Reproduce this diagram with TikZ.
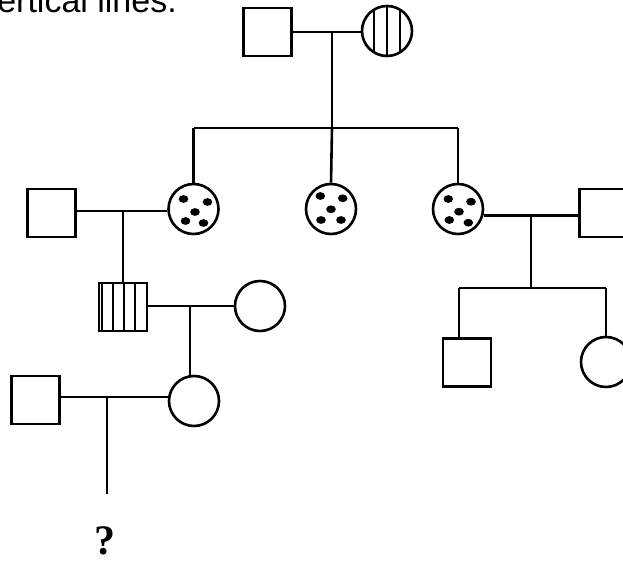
\documentclass[tikz,border=0pt]{standalone}
\usepackage{fontspec}
\setmainfont{Liberation Serif}
\newfontfamily\arialfont{Liberation Sans}
\begin{document}
\begin{tikzpicture}[x=1pt,y=-1pt,
  lw/.style={line width=2.6pt},
  male/.style={draw,lw,rectangle,inner sep=0pt,minimum size=48pt},
  female/.style={draw,lw,circle,inner sep=0pt,minimum size=50pt},
  vstripecircle/.style={female,path picture={
     \foreach \dx in {-13,0,13}{
       \draw[lw] ([xshift=\dx pt]path picture bounding box.north) -- ([xshift=\dx pt]path picture bounding box.south);}}},
  vstripesquare/.style={male,path picture={
     \foreach \dx in {-21,-10,1,12}{
       \draw[lw] ([xshift=\dx pt]path picture bounding box.north) -- ([xshift=\dx pt]path picture bounding box.south);}}},
  link/.style={lw}
]
\useasboundingbox (0,0) rectangle (623,561);
\clip (0,0) rectangle (623,561);
\fill[white] (0,0) rectangle (623,561);

\node[anchor=base east,inner sep=0pt,font=\arialfont\fontsize{34}{40}\selectfont] (title) at (177,13) {vertical lines.};

% generation I
\node[male] (gf) at (267.5,32) {};
\node[vstripecircle] (gm) at (387,31) {};
\coordinate (m1) at (332,32);
\coordinate (s1) at (332,128);
\draw[link] (gf.east |- m1) -- (m1) -- (gm.west |- m1);
\draw[link] (m1) -- (s1);

% generation II
\node[female] (c1) at (193.5,209) {};
\node[female] (c2) at (331,209) {};
\node[female] (c3) at (458,209) {};
\draw[link] (c1.north |- s1) -- (c3.north |- s1);
\draw[link] (c1.north |- s1) -- (c1.north);
\draw[link] (s1) -- (c2.north);
\draw[link] (c3.north |- s1) -- (c3.north);

\foreach \n/\dx/\dy in {c1/-10/-10, c1/14/-7, c1/1.5/3, c1/-8/12, c1/10/14,
                        c2/-10.7/-13, c2/11.7/-10.7, c2/0/0.3, c2/-10/11, c2/10/11,
                        c3/-9.7/-10, c3/13/-7.3, c3/1/2.7, c3/-8.7/11, c3/10.3/13.7}{
  \fill ([shift={(\dx,\dy)}]\n.center) ellipse [x radius=4.8pt, y radius=3.9pt];
}

% left spouse
\node[male] (lf) at (51.3,213) {};
\coordinate (m2) at (123,211);
\draw[link] (lf.east |- m2) -- (c1.west |- m2);

% generation III left
\node[vstripesquare] (ss) at (123,307) {};
\draw[link] (m2) -- (ss.north);
\node[female] (pc) at (260,306) {};
\coordinate (m3) at (190,306);
\draw[link] (ss.east |- m3) -- (pc.west);

% generation IV left
\node[female] (d) at (194,401) {};
\draw[link] (m3) -- (m3 |- d.north);
\node[male] (ds) at (35.5,400) {};
\coordinate (m4) at (107,397);
\draw[link] (ds.east |- m4) -- (d.west |- m4);
\coordinate (q) at (107,494);
\draw[link] (m4) -- (q);
\node[font=\bfseries\fontsize{42}{48}\selectfont,inner sep=0pt] (qm) at (105,541) {?};

% right spouse
\node[male] (rm) at (603.5,213) {};
\coordinate (m5) at (531,215);
\draw[link] (c3.-14) -- (c3.-14 -| rm.west);
\coordinate (s2) at (531,288);
\draw[link] (m5) -- (s2);

% generation III right
\node[male] (rs) at (467,362.5) {};
\node[female] (rc) at (606,362) {};
\draw[link] (459,288) -- (rc.north |- s2);
\draw[link] (459,288) -- (459,338);
\draw[link] (rc.north |- s2) -- (rc.north);
\end{tikzpicture}
\end{document}
